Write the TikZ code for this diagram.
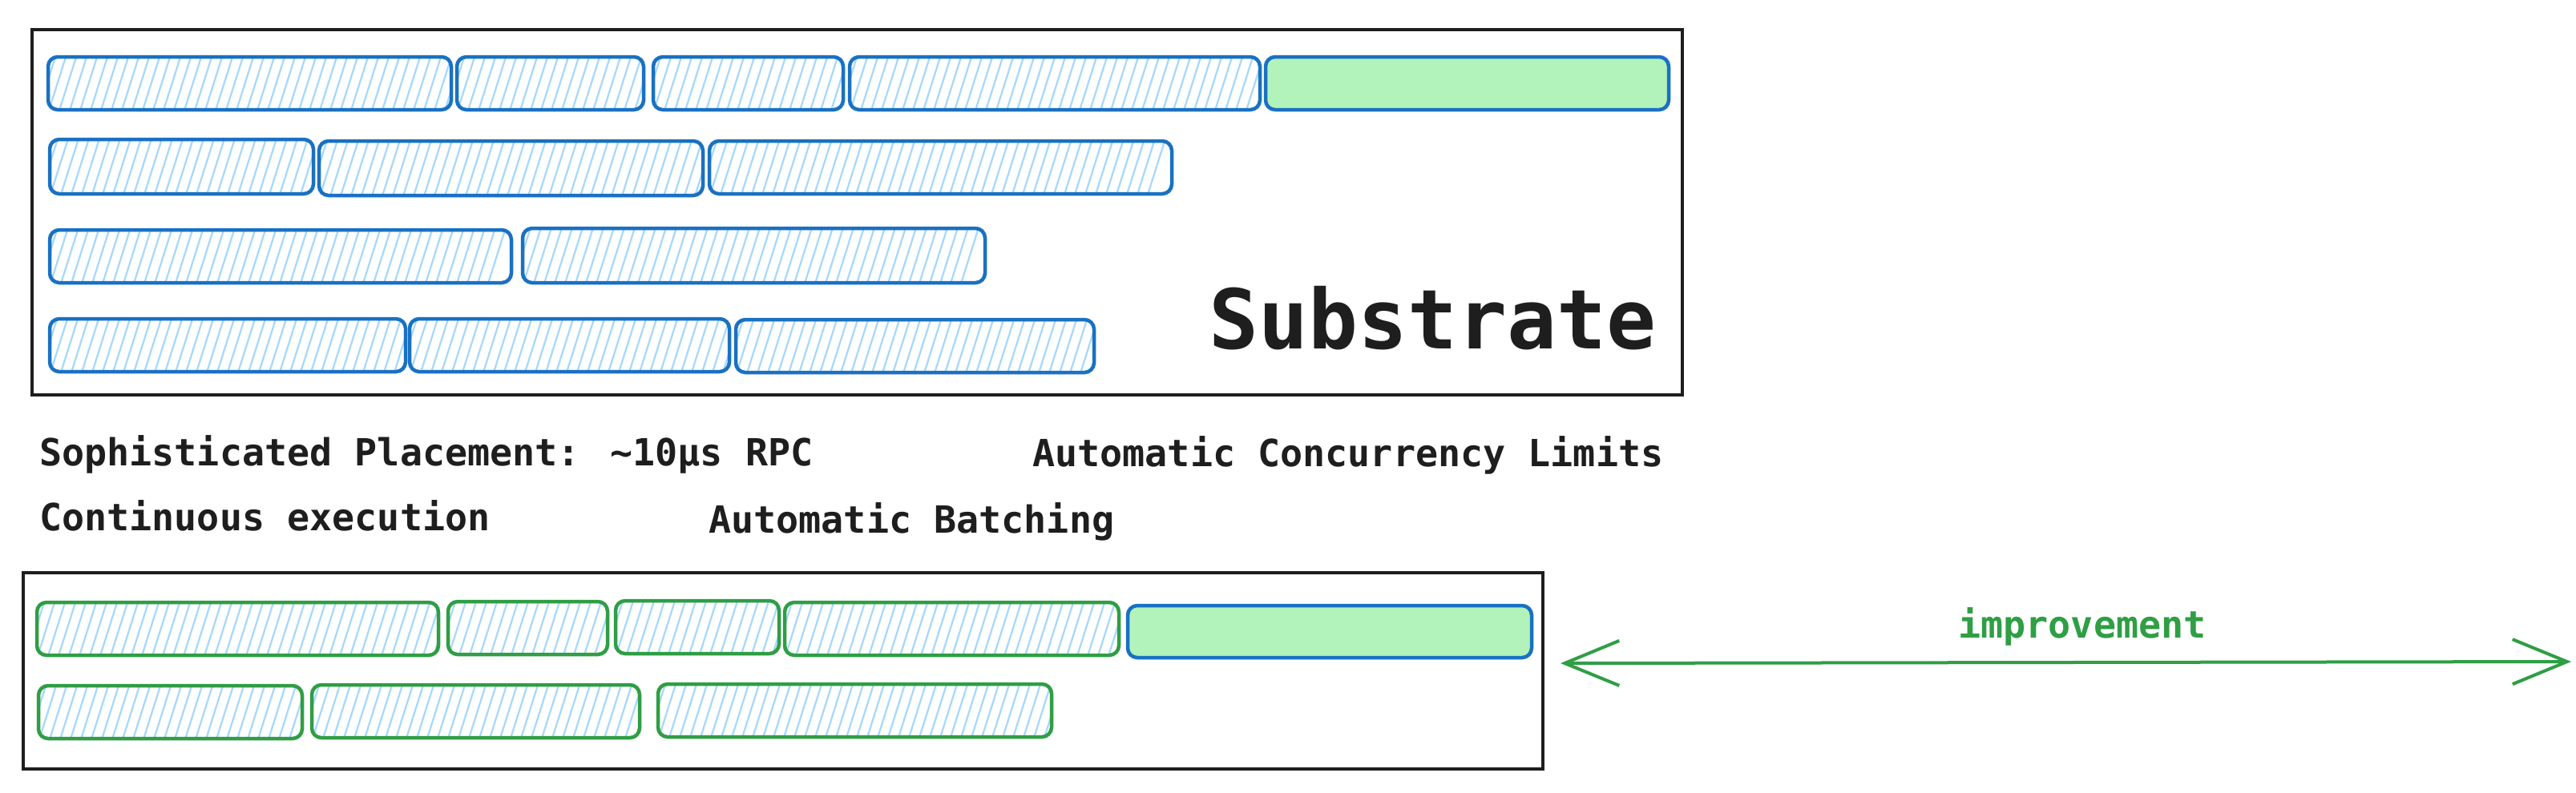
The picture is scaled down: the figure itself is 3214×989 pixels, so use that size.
\documentclass[tikz,border=0pt]{standalone}
\usepackage{fontspec}
\usetikzlibrary{arrows.meta,calc}
\newfontface\monofont{DejaVu Sans Mono Bold}
\definecolor{sblue}{HTML}{1971C2}
\definecolor{hblue}{HTML}{A5D8FF}
\definecolor{sgreen}{HTML}{2F9E44}
\definecolor{fgreen}{HTML}{B2F2BB}
\definecolor{ink}{HTML}{1E1E1E}
\tikzset{
  hatched/.style={path picture={
    \foreach \k in {-6,...,42}{
      \draw[hblue, line width=2.2pt] ($(path picture bounding box.south west)+(\k*13,4)$) -- ++(24,-76);
    }}},
  bar/.style={rectangle, draw=sblue, line width=4.5pt, rounded corners=12pt, inner sep=0pt, outer sep=0pt},
  hbar/.style={bar, hatched},
  gbar/.style={bar, draw=sgreen, hatched},
  fbar/.style={bar, fill=fgreen},
  frame/.style={rectangle, draw=ink, line width=4pt, inner sep=0pt, outer sep=0pt},
  lbl/.style={font=\monofont\fontsize{46.7}{56}\selectfont, text=ink, inner sep=0pt, anchor=base west},
  big/.style={font=\monofont\fontsize{103}{120}\selectfont, text=ink, inner sep=0pt, anchor=base west},
  improve/.style={draw=sgreen, line width=4pt, {Straight Barb[length=68pt,width=56pt,line width=4pt]}-{Straight Barb[length=68pt,width=56pt,line width=4pt]}},
}
\newcommand\barbox[6]{\node[#6, minimum width={(#4-#2)*1pt}, minimum height={(#5-#3)*1pt}] (#1) at ({(#2+#4)/2},{(#3+#5)/2}) {};}
\begin{document}
\begin{tikzpicture}[x=1pt,y=-1pt]
\useasboundingbox[fill=white] (0,0) rectangle (3214,989);
% top frame
\barbox{topframe}{40}{37}{2099}{493}{frame}
% row 1
\barbox{ta1}{60}{71}{563}{137}{hbar}
\barbox{ta2}{570}{71}{803}{137}{hbar}
\barbox{ta3}{815}{71}{1052}{137}{hbar}
\barbox{ta4}{1060}{71}{1572}{137}{hbar}
\barbox{ta5}{1579}{71}{2082}{137}{fbar}
% row 2
\barbox{tb1}{62}{174}{391}{242}{hbar}
\barbox{tb2}{398}{176}{877}{244}{hbar}
\barbox{tb3}{885}{176}{1462}{242}{hbar}
% row 3
\barbox{tc1}{62}{287}{638}{353}{hbar}
\barbox{tc2}{652}{285}{1229}{353}{hbar}
% row 4
\barbox{td1}{62}{398}{506}{464}{hbar}
\barbox{td2}{511}{398}{910}{464}{hbar}
\barbox{td3}{918}{399}{1365}{465}{hbar}
\node[big] (substrate) at (1508,435) {Substrate};
% labels
\node[lbl] (place) at (49,581) {Sophisticated Placement: {\char"7E}10µs RPC};
\node[lbl] (conc) at (1288,582) {Automatic Concurrency Limits};
\node[lbl] (cont) at (49,662) {Continuous execution};
\node[lbl] (batch) at (884,665) {Automatic Batching};
% bottom frame
\barbox{botframe}{29}{715}{1925}{960}{frame}
\barbox{ba1}{46}{752}{547}{818}{gbar}
\barbox{ba2}{559}{751}{758}{817}{gbar}
\barbox{ba3}{768}{750}{972}{816}{gbar}
\barbox{ba4}{979}{752}{1396}{818}{gbar}
\barbox{ba5}{1407}{756}{1911}{821}{fbar}
\barbox{bb1}{48}{856}{377}{922}{gbar}
\barbox{bb2}{389}{855}{798}{921}{gbar}
\barbox{bb3}{821}{854}{1312}{920}{gbar}
% arrow
\coordinate (arrL) at (1947,828);
\coordinate (arrR) at (3208,826);
\draw[improve] (arrL) -- (arrR);
\node[font=\monofont\fontsize{46.7}{56}\selectfont, text=sgreen, inner sep=0pt, anchor=base] (imp) at (2598,796) {improvement};
\end{tikzpicture}
\end{document}
